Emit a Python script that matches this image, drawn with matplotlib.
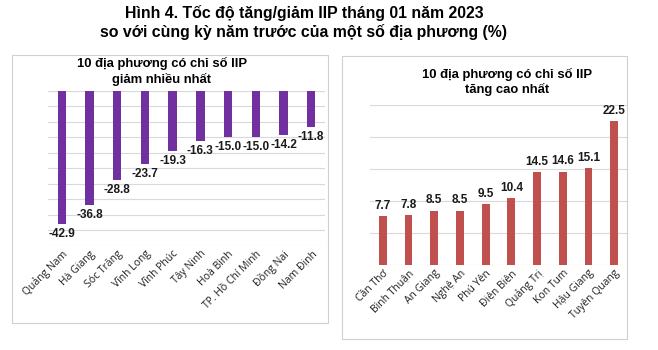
import matplotlib
matplotlib.use('Agg')
import matplotlib.pyplot as plt
from matplotlib.patches import Rectangle

# data
dec_places = ['Quảng Nam', 'Hà Giang', 'Sóc Trăng', 'Vĩnh Long', 'Vĩnh Phúc',
              'Tây Ninh', 'Hoà Bình', 'TP. Hồ Chí Minh', 'Đồng Nai', 'Nam Định']
dec_values = [-42.9, -36.8, -28.8, -23.7, -19.3, -16.3, -15.0, -15.0, -14.2, -11.8]

inc_places = ['Cần Thơ', 'Bình Thuận', 'An Giang', 'Nghệ An', 'Phú Yên',
              'Điện Biên', 'Quảng Trị', 'Kon Tum', 'Hậu Giang', 'Tuyên Quang']
inc_values = [7.7, 7.8, 8.5, 8.5, 9.5, 10.4, 14.5, 14.6, 15.1, 22.5]

title = 'Hình 4. Tốc độ tăng/giảm IIP tháng 01 năm 2023\nso với cùng kỳ năm trước của một số địa phương (%)'
dec_title = '10 địa phương có chỉ số IIP\ngiảm nhiều nhất'
inc_title = '10 địa phương có chỉ số IIP\ntăng cao nhất'

W, H = 658, 350
BOLD = ['Liberation Sans', 'DejaVu Sans']
TICK = ['Open Sans', 'DejaVu Sans']


def px_rect(x0, y0, x1, y1):
    # pixel box (top-left origin) -> figure fraction [l, b, w, h]
    return [x0 / W, (H - y1) / H, (x1 - x0) / W, (y1 - y0) / H]


def panel(ax, places, values, color, ylim, step):
    x = range(len(places))
    bars = ax.bar(x, values, width=0.3, color=color, zorder=3)
    ax.set_xlim(-0.5, len(places) - 0.5)
    ax.set_ylim(*ylim)
    ax.set_yticks([ylim[0] + i * step for i in range(int((ylim[1] - ylim[0]) / step) + 1)])
    ax.yaxis.grid(True, color='#d9d9d9', linewidth=0.8, zorder=0)
    ax.tick_params(axis='y', left=False, labelleft=False)
    ax.tick_params(axis='x', length=0, pad=2)
    for s in ax.spines.values():
        s.set_visible(False)
    ax.set_xticks(list(x))
    ax.set_xticklabels(places, rotation=45, ha='right', rotation_mode='anchor',
                       family=TICK, fontsize=7.5, color='#1f1f1f')
    for b, v in zip(bars, values):
        va = 'top' if v < 0 else 'bottom'
        ax.annotate(f'{v:.1f}', (b.get_x() + b.get_width() / 2, v),
                    xytext=(0, 3 if v > 0 else -3), textcoords='offset points',
                    ha='center', va=va, family=BOLD, fontsize=8.5, fontweight='bold', color='#1a1a1a')


fig = plt.figure(figsize=(W / 100, H / 100), dpi=100)
fig.patch.set_facecolor('white')

# panel frames
for x0, y0, x1, y1 in [(12, 55, 328, 323), (342, 56, 627, 339)]:
    l, b, w, h = px_rect(x0, y0, x1, y1)
    fig.add_artist(Rectangle((l, b), w, h, transform=fig.transFigure,
                             fill=False, edgecolor='#d0d0d0', linewidth=0.8))

fig.text(304 / W, 1 - 5 / H, title, ha='center', va='top', family=BOLD,
         fontsize=11.4, fontweight='bold', linespacing=1.2)

ax1 = fig.add_axes(px_rect(48, 90.7, 325, 245.7))
panel(ax1, dec_places, dec_values, '#7030a0', (-50, 0), 5)
fig.text(162 / W, 1 - 57 / H, dec_title, ha='center', va='top', family=BOLD,
         fontsize=9.4, fontweight='bold', linespacing=1.25)

ax2 = fig.add_axes(px_rect(370, 105, 627, 265))
panel(ax2, inc_places, inc_values, '#c0504d', (0, 25), 5)
fig.text(507 / W, 1 - 68 / H, inc_title, ha='center', va='top', family=BOLD,
         fontsize=9.4, fontweight='bold', linespacing=1.15)

fig.savefig('out.png', dpi=100)
